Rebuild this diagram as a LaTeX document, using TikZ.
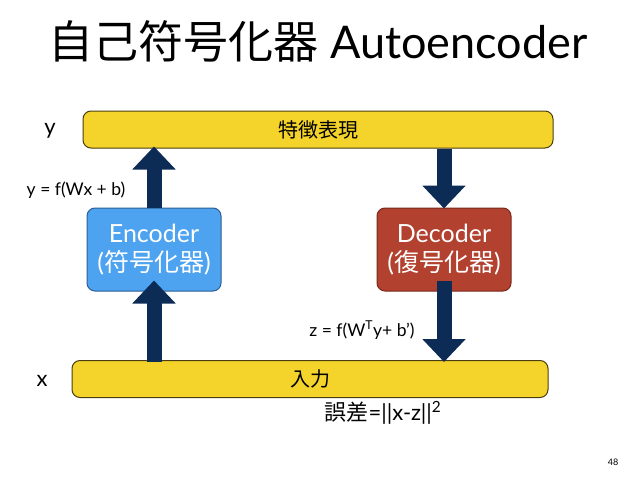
\documentclass[tikz,border=0pt]{standalone}
\usepackage{fontspec}
\setmainfont{Lato}
\newfontfamily\cjk{Noto Sans CJK JP}
\usetikzlibrary{arrows.meta}
\definecolor{baryellow}{HTML}{F4D42A}
\definecolor{barline}{HTML}{4A3E10}
\definecolor{encblue}{HTML}{4DA3EF}
\definecolor{encline}{HTML}{2B5E95}
\definecolor{decred}{HTML}{B3412F}
\definecolor{decline}{HTML}{7A2A1E}
\definecolor{navy}{HTML}{0C2B55}
\begin{document}
\begin{tikzpicture}[x=1pt,y=-1pt,
  bar/.style={draw=barline, line width=1pt, fill=baryellow, rounded corners=8pt,
    minimum height=37pt, inner sep=0pt, font=\cjk\fontsize{20}{24}\selectfont},
  coder/.style={line width=1pt, rounded corners=8pt, minimum width=134pt,
    minimum height=83pt, inner sep=0pt, text=white, align=center,
    font=\fontsize{25}{29}\selectfont},
  fat/.style={draw=navy, line width=15pt,
    -{Triangle[width=42pt,length=23pt]}},
  lbl/.style={font=\fontsize{17.5}{20}\selectfont, inner sep=0pt},
  big/.style={font=\fontsize{22}{26}\selectfont, inner sep=0pt}]
\useasboundingbox (0,0) rectangle (638,479);
\node[anchor=base, inner sep=0pt, font=\fontsize{45}{50}\selectfont] (title) at (318,58)
  {{\cjk 自己符号化器} Autoencoder};
\node[bar, minimum width=470pt] (feat) at (318,129.5) {特徴表現};
\node[bar, minimum width=476pt] (input) at (310,379) {入力};
\node[big] (ylab) at (50,131) {y};
\node[big] (xlab) at (42,381) {x};
\node[coder, draw=encline, fill=encblue] (enc) at (154,249.5)
  {Encoder\\({\cjk 符号化器})};
\node[coder, draw=decline, fill=decred] (dec) at (444,249.5)
  {Decoder\\({\cjk 復号化器})};
\draw[fat] (enc.north) -- ([yshift=2pt]feat.south -| enc.north);
\draw[fat] (feat.south -| dec.north) -- ([yshift=-1pt]dec.north);
\draw[fat] ([yshift=-2pt]input.north -| enc.south) -- ([yshift=11pt]enc.south);
\draw[fat] ([yshift=11pt]dec.south) -- ([yshift=-2pt]input.north -| dec.south);
\node[lbl] (encf) at (76,190) {y = f(Wx + b)};
\node[lbl] (decf) at (362,330) {z = f(W\textsuperscript{T}y+ b')};
\node[big] (err) at (383,413) {{\cjk 誤差}=||x-z||\textsuperscript{2}};
\node[inner sep=0pt, font=\fontsize{9}{10}\selectfont] (page) at (613,462) {48};
\end{tikzpicture}
\end{document}
